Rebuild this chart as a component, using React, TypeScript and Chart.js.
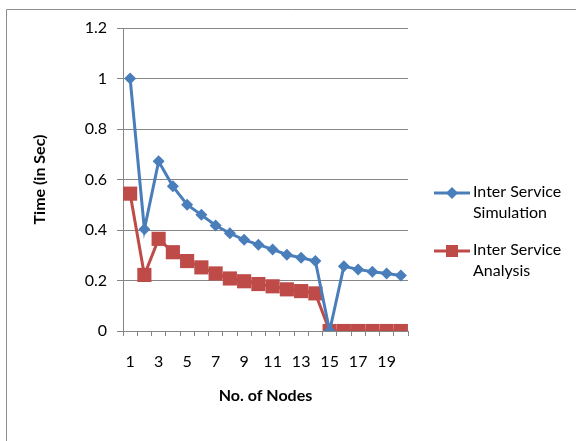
import React, { useEffect, useRef } from "react";
import { Chart, registerables } from "chart.js";

Chart.register(...registerables);

const categories = ["1","2","3","4","5","6","7","8","9","10","11","12","13","14","15","16","17","18","19","20"];
const simulation = [1.0, 0.403, 0.672, 0.573, 0.5, 0.46, 0.418, 0.387, 0.361, 0.342, 0.323, 0.302, 0.29, 0.277, 0, 0.256, 0.244, 0.235, 0.228, 0.22];
const analysis = [0.544, 0.222, 0.365, 0.312, 0.277, 0.252, 0.228, 0.208, 0.197, 0.186, 0.177, 0.165, 0.158, 0.149, 0, 0, 0, 0, 0, 0];
const seriesNames = [["Inter Service", "Simulation"], ["Inter Service", "Analysis"]];
const yTitle = "Time (in Sec)";
const xTitle = "No. of Nodes";

const BLUE = "#4A7EBB";
const RED = "#BE4B48";
const GRID = "#868686";
const FONT = "Lato, 'Open Sans', sans-serif";

const frameAndLegend = {
  id: "frameAndLegend",
  afterDraw(chart: any) {
    const ctx = chart.ctx;
    ctx.save();
    ctx.strokeStyle = "#8c8c8c";
    ctx.lineWidth = 1;
    ctx.beginPath();
    ctx.moveTo(6.5, 445);
    ctx.lineTo(6.5, 9.5);
    ctx.lineTo(580, 9.5);
    ctx.stroke();

    const ys = [193, 251];
    chart.data.datasets.forEach((ds: any, i: number) => {
      const y = ys[i];
      ctx.strokeStyle = ds.borderColor;
      ctx.lineWidth = 3;
      ctx.beginPath();
      ctx.moveTo(434, y);
      ctx.lineTo(470, y);
      ctx.stroke();
      ctx.fillStyle = ds.backgroundColor;
      if (ds.pointStyle === "rectRot") {
        const r = 6;
        ctx.beginPath();
        ctx.moveTo(452, y - r);
        ctx.lineTo(452 + r, y);
        ctx.lineTo(452, y + r);
        ctx.lineTo(452 - r, y);
        ctx.closePath();
        ctx.fill();
      } else {
        ctx.fillRect(452 - 6, y - 6, 12, 12);
      }
      ctx.fillStyle = "#000";
      ctx.font = `16px ${FONT}`;
      ctx.textBaseline = "middle";
      ctx.textAlign = "left";
      const lines = seriesNames[i];
      lines.forEach((t: string, k: number) => {
        ctx.fillText(t, 473, y - 1 + k * 21);
      });
    });
    ctx.restore();
  },
};

export default function App() {
  const ref = useRef<HTMLCanvasElement>(null);
  useEffect(() => {
    const chart = new Chart(ref.current as HTMLCanvasElement, {
      type: "line",
      data: {
        labels: categories,
        datasets: [
          {
            label: seriesNames[0].join(" "),
            data: simulation,
            borderColor: BLUE,
            backgroundColor: BLUE,
            borderWidth: 3,
            pointStyle: "rectRot",
            pointRadius: 6,
            pointBorderWidth: 0,
            pointBackgroundColor: BLUE,
            tension: 0,
          },
          {
            label: seriesNames[1].join(" "),
            data: analysis,
            borderColor: RED,
            backgroundColor: RED,
            borderWidth: 3,
            pointStyle: "rect",
            pointRadius: 10,
            pointBorderWidth: 0,
            pointBackgroundColor: RED,
            tension: 0,
          },
        ],
      },
      options: {
        animation: false,
        responsive: false,
        maintainAspectRatio: false,
        layout: { padding: { left: 0, top: 28, right: 168, bottom: 0 } },
        plugins: { legend: { display: false }, tooltip: { enabled: false } },
        scales: {
          x: {
            type: "category",
            offset: true,
            grid: { display: true, drawOnChartArea: false, drawTicks: true, tickLength: 5, offset: true, color: GRID },
            border: { color: GRID },
            ticks: {
              autoSkip: false,
              maxRotation: 0,
              padding: 16,
              color: "#000",
              font: { family: FONT, size: 16 },
              callback: (_v: any, idx: number) => (idx % 2 === 0 ? categories[idx] : ""),
            },
            title: {
              display: true,
              text: xTitle,
              color: "#000",
              font: { family: FONT, size: 16, weight: "bold" },
              padding: { top: 0, bottom: 36 },
            },
            afterFit: (s: any) => { s.height = 110; },
          },
          y: {
            min: 0,
            max: 1.2,
            grid: { color: GRID, tickLength: 6, drawTicks: true },
            border: { color: GRID },
            ticks: {
              stepSize: 0.2,
              padding: 10,
              color: "#000",
              font: { family: FONT, size: 16 },
              callback: (v: any) => String(Number(Number(v).toFixed(1))),
            },
            title: {
              display: true,
              text: yTitle,
              color: "#000",
              font: { family: FONT, size: 16, weight: "bold" },
              padding: { top: 30, bottom: 0 },
            },
            afterFit: (s: any) => { s.width = 123; },
          },
        },
      },
      plugins: [frameAndLegend],
    });
    return () => chart.destroy();
  }, []);
  return (
    <div style={{ position: "fixed", left: 0, top: 0, width: 576, height: 441, background: "#fff" }}>
      <canvas ref={ref} width={576} height={441} style={{ display: "block" }} />
    </div>
  );
}
